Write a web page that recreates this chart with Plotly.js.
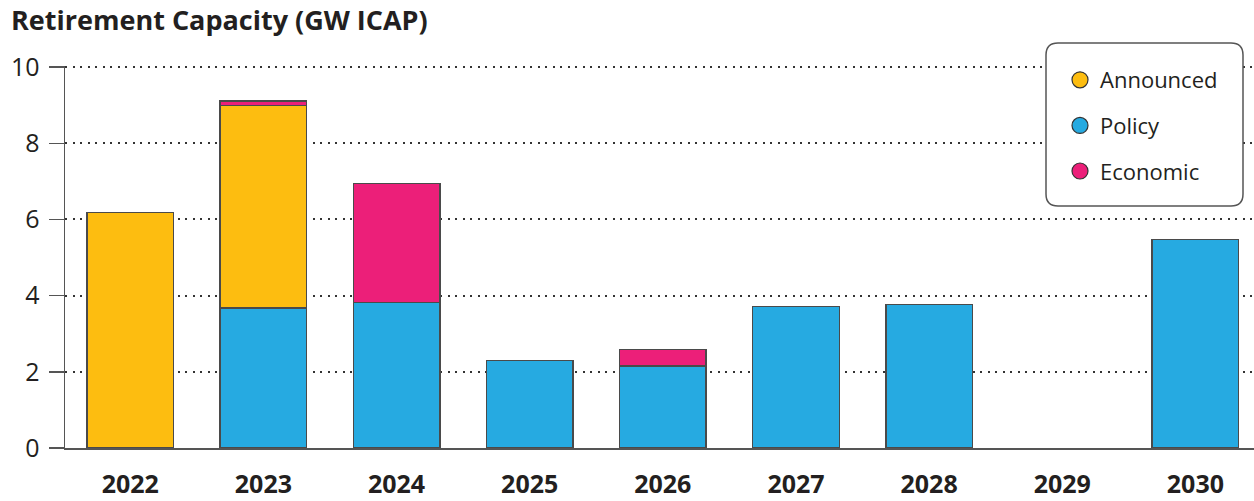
<!DOCTYPE html>
<html>
<head>
<meta charset="utf-8">
<script src="https://cdn.plot.ly/plotly-3.0.1.min.js"></script>
<style>
  html, body { margin: 0; padding: 0; background: #fff; }
  #chart { width: 1254px; height: 501px; }
</style>
</head>
<body>
<div id="chart"></div>
<script>
// Retirement capacity by year, GW ICAP
const years = ['2022', '2023', '2024', '2025', '2026', '2027', '2028', '2029', '2030'];
const policy    = [0,    3.67, 3.82, 2.30, 2.15, 3.72, 3.77, 0, 5.47];
const announced = [6.18, 5.32, 0,    0,    0,    0,    0,    0, 0];
const economic  = [0,    0.12, 3.12, 0,    0.43, 0,    0,    0, 0];

const seriesNames = ['Announced', 'Policy', 'Economic'];
const seriesColors = { Announced: '#FDBD10', Policy: '#26AAE1', Economic: '#EC1F79' };

const outline = { color: '#4a4a4a', width: 1.5 };
const FONT = 'Open Sans, Liberation Sans, sans-serif';

function barTrace(name, vals) {
    return {
        type: 'bar',
        x: years,
        y: vals.map(v => v === 0 ? null : v),
        name: name,
        marker: { color: seriesColors[name], line: outline },
        showlegend: false,
        hoverinfo: 'x+y+name'
    };
}

// stacking order: policy bottom, announced, economic on top
const bars = [
    barTrace('Policy', policy),
    barTrace('Announced', announced),
    barTrace('Economic', economic)
];

// legend-only traces so the swatches are circles
const legendTraces = seriesNames.map(name => ({
    type: 'scatter',
    mode: 'markers',
    x: [null],
    y: [null],
    name: name,
    legendgroup: name,
    marker: { symbol: 'circle', size: 18, color: seriesColors[name], line: { color: '#333', width: 1.2 } },
    hoverinfo: 'skip'
}));

// plot area in pixels: x 65..1254, y 66..448
const plotL = 65, plotR = 1254, plotT = 66, plotB = 448;
const plotW = plotR - plotL, plotH = plotB - plotT;
function px2x(p) { return (p - plotL) / plotW; }
function px2y(p) { return (plotB - p) / plotH; }
function roundedBox(x0, y0, x1, y1, r) {
    const X = px2x, Y = px2y;
    return `M ${X(x0 + r)} ${Y(y0)} L ${X(x1 - r)} ${Y(y0)} Q ${X(x1)} ${Y(y0)} ${X(x1)} ${Y(y0 + r)}` +
           ` L ${X(x1)} ${Y(y1 - r)} Q ${X(x1)} ${Y(y1)} ${X(x1 - r)} ${Y(y1)}` +
           ` L ${X(x0 + r)} ${Y(y1)} Q ${X(x0)} ${Y(y1)} ${X(x0)} ${Y(y1 - r)}` +
           ` L ${X(x0)} ${Y(y0 + r)} Q ${X(x0)} ${Y(y0)} ${X(x0 + r)} ${Y(y0)} Z`;
}

const layout = {
    width: 1254,
    height: 501,
    margin: { l: plotL, r: 1254 - plotR, t: plotT, b: 501 - plotB },
    paper_bgcolor: '#fff',
    plot_bgcolor: '#fff',
    font: { family: FONT, color: '#231f20' },
    title: {
        text: '<b>Retirement Capacity (GW ICAP)</b>',
        font: { family: FONT, size: 27, color: '#231f20' },
        xref: 'container', x: 11 / 1254, xanchor: 'left',
        yref: 'container', y: 1 - 21 / 501, yanchor: 'middle'
    },
    barmode: 'stack',
    bargap: 0.35,
    xaxis: {
        type: 'category',
        range: [-0.49, 8.44],
        showgrid: false,
        showline: true,
        linecolor: '#555',
        linewidth: 1.5,
        ticks: '',
        ticklabelstandoff: 13,
        tickfont: { family: FONT, size: 25, color: '#231f20', weight: 'bold' },
        fixedrange: true
    },
    yaxis: {
        range: [0, 10.03],
        tickvals: [0, 2, 4, 6, 8, 10],
        showgrid: true,
        gridcolor: '#333',
        gridwidth: 2,
        griddash: '2px,5.5px',
        zeroline: false,
        showline: true,
        linecolor: '#555',
        linewidth: 1.5,
        ticks: 'outside',
        ticklen: 15,
        tickwidth: 1.5,
        tickcolor: '#555',
        ticklabelstandoff: 4,
        tickfont: { family: FONT, size: 25, color: '#231f20' },
        fixedrange: true
    },
    legend: {
        x: px2x(1060), y: px2y(59),
        xanchor: 'left', yanchor: 'top',
        bgcolor: 'rgba(0,0,0,0)',
        borderwidth: 0,
        tracegroupgap: 14,
        font: { family: FONT, size: 22, color: '#231f20' },
        itemclick: false, itemdoubleclick: false
    },
    shapes: [{
        type: 'path',
        xref: 'paper', yref: 'paper',
        path: roundedBox(1046, 43, 1243, 206, 12),
        fillcolor: '#fff',
        line: { color: '#555', width: 1.5 },
        layer: 'above'
    }]
};

Plotly.newPlot('chart', bars.concat(legendTraces), layout, { displayModeBar: false, staticPlot: true });
</script>
</body>
</html>
